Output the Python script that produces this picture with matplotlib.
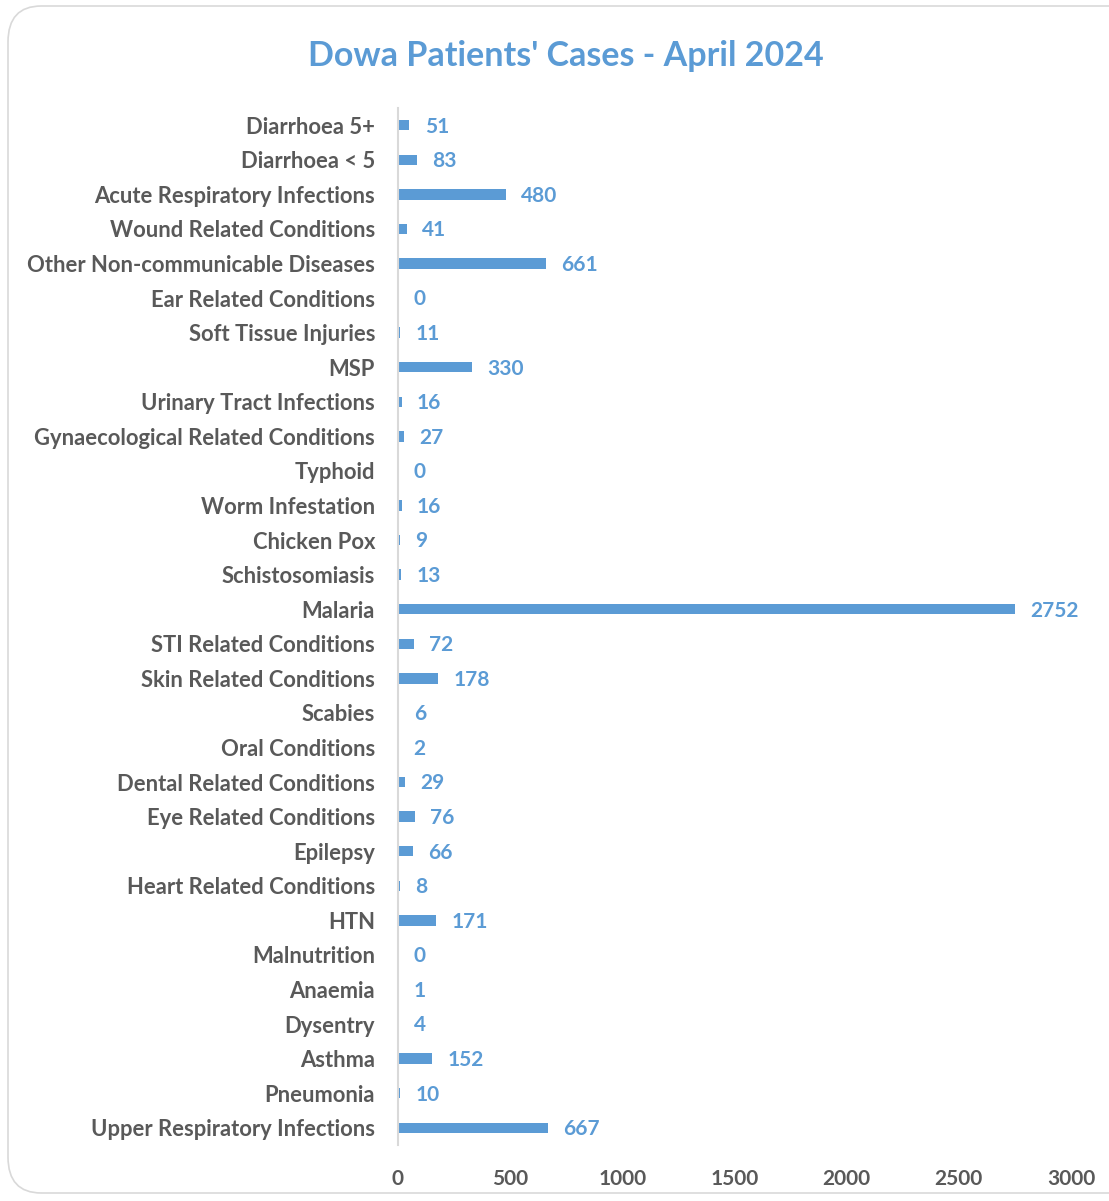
import matplotlib.pyplot as plt
from matplotlib.patches import FancyBboxPatch

# ─── Data ─────────────────────────────────────────────────────────────────────

categories = [
    'Diarrhoea 5+', 'Diarrhoea < 5', 'Acute Respiratory Infections',
    'Wound Related Conditions', 'Other Non-communicable Diseases',
    'Ear Related Conditions', 'Soft Tissue Injuries', 'MSP',
    'Urinary Tract Infections', 'Gynaecological Related Conditions',
    'Typhoid', 'Worm Infestation', 'Chicken Pox', 'Schistosomiasis',
    'Malaria', 'STI Related Conditions', 'Skin Related Conditions',
    'Scabies', 'Oral Conditions', 'Dental Related Conditions',
    'Eye Related Conditions', 'Epilepsy', 'Heart Related Conditions',
    'HTN', 'Malnutrition', 'Anaemia', 'Dysentry', 'Asthma', 'Pneumonia',
    'Upper Respiratory Infections',
]
cases = [51, 83, 480, 41, 661, 0, 11, 330, 16, 27, 0, 16, 9, 13, 2752,
         72, 178, 6, 2, 29, 76, 66, 8, 171, 0, 1, 4, 152, 10, 667]
x_ticks = [0, 500, 1000, 1500, 2000, 2500, 3000]

BLUE = '#5B9BD5'
GREY = '#595959'
FONT = 'Lato'

# ─── Figure ───────────────────────────────────────────────────────────────────

W, H = 1109, 1201
fig = plt.figure(figsize=(W / 100, H / 100), dpi=100)

# rounded chart border
border = FancyBboxPatch((8 / W, 8 / H), 1.2, (H - 14) / H,
                        boxstyle='round,pad=0,rounding_size=0.03',
                        transform=fig.transFigure, fill=False,
                        edgecolor='#D9D9D9', linewidth=1.2)
fig.patches.append(border)

ax = fig.add_axes([398 / W, 1 - 1145 / H, (1071 - 398) / W, (1145 - 108) / H])

y = list(range(len(categories)))
ax.barh(y, cases, height=0.3, color=BLUE)
ax.set_ylim(len(categories) - 0.5, -0.5)
ax.set_xlim(0, 3000)

for yi, v in zip(y, cases):
    ax.text(v + 68, yi + 0.04, str(v), va='center', ha='left', color=BLUE,
            fontsize=15, fontweight='bold', family=FONT)

ax.set_yticks(y)
ax.set_yticklabels(categories, fontsize=15.8, fontweight='bold',
                   color=GREY, family=FONT)
ax.set_xticks(x_ticks)
ax.set_xticklabels([str(t) for t in x_ticks], fontsize=15,
                   fontweight='bold', color=GREY, family=FONT)
ax.tick_params(axis='y', length=0, pad=16.5)
ax.tick_params(axis='x', length=0, pad=17)

for side in ['top', 'right', 'bottom']:
    ax.spines[side].set_visible(False)
ax.spines['left'].set_color('#D9D9D9')
ax.spines['left'].set_linewidth(1.5)

fig.text(566 / W, 1 - 56 / H, "Dowa Patients' Cases - April 2024",
         ha='center', va='center', color=BLUE, fontsize=24.5,
         fontweight='bold', family=FONT)

fig.savefig('out.png', dpi=100)
